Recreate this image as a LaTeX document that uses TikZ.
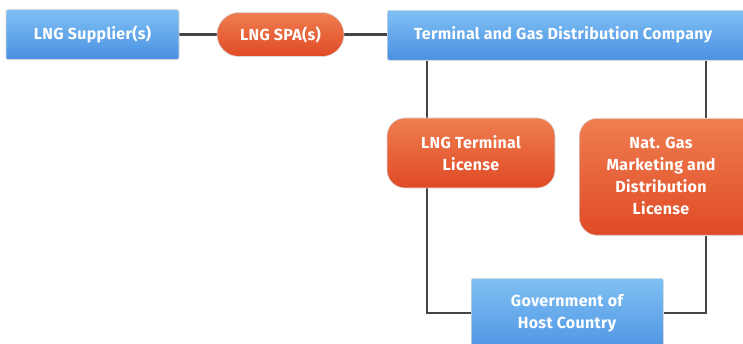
\documentclass[tikz,border=0pt]{standalone}
\usepackage{fontspec}
\setmainfont{Fira Sans}[LetterSpace=2]
\usetikzlibrary{backgrounds}
\begin{document}
\begin{tikzpicture}[x=1pt,y=-1pt,
  boxfont/.style={text=white, font=\fontsize{16}{22}\selectfont\bfseries, align=center},
  blue box/.style={rectangle, rounded corners=2pt, top color=bluetop, bottom color=bluebot, draw=black!15, line width=0.6pt, boxfont, inner sep=0pt},
  orange box/.style={rectangle, rounded corners=18pt, top color=orangetop, bottom color=orangebot, draw=black!15, line width=0.6pt, boxfont, inner sep=0pt},
  link/.style={draw=linegray, line width=2.4pt}]
\definecolor{bluetop}{HTML}{7FC0F3}
\definecolor{bluebot}{HTML}{4A90E2}
\definecolor{orangetop}{HTML}{EF7E50}
\definecolor{orangebot}{HTML}{E04A26}
\definecolor{linegray}{HTML}{444444}
\useasboundingbox (0,0) rectangle (743,344);
\clip (0,0) rectangle (743,344);
\node[blue box, minimum width=173pt, minimum height=50pt] (sup) at (92.5,34.5) {LNG Supplier(s)};
\node[orange box, rounded corners=22pt, minimum width=127pt, minimum height=44pt] (spa) at (280.5,34.5) {LNG SPA(s)};
\node[blue box, minimum width=370pt, minimum height=50pt, anchor=north west] (tgd) at (387,10) {};
\node[boxfont] (tgdtext) at (563,35) {Terminal and Gas Distribution Company};
\node[orange box, minimum width=168pt, minimum height=70pt] (tllic) at (471,153) {LNG Terminal\\License};
\node[orange box, minimum width=180pt, minimum height=117pt, anchor=north west] (nglic) at (579,118) {};
\node[boxfont] (nglictext) at (661,176) {Nat. Gas\\Marketing and\\Distribution\\License};
\node[blue box, minimum width=192pt, minimum height=80pt, anchor=north west] (gov) at (471,278) {};
\node[boxfont] (govtext) at (567,313) {Government of\\Host Country};
\coordinate (xl) at (427,0);
\coordinate (xr) at (706,0);
\coordinate (yb) at (0,313);
\begin{scope}[on background layer]
\draw[link] (sup.east) -- (spa.west);
\draw[link] (spa.east) -- (spa.east -| tgd.west);
\draw[link] (tgd.south -| xl) -- (tllic.north -| xl);
\draw[link] (tgd.south -| xr) -- (nglic.north -| xr);
\draw[link] (tllic.south -| xl) -- (xl |- yb) -- (gov.west |- yb);
\draw[link] (nglic.south -| xr) -- (xr |- yb) -- (gov.east |- yb);
\end{scope}
\end{tikzpicture}
\end{document}
